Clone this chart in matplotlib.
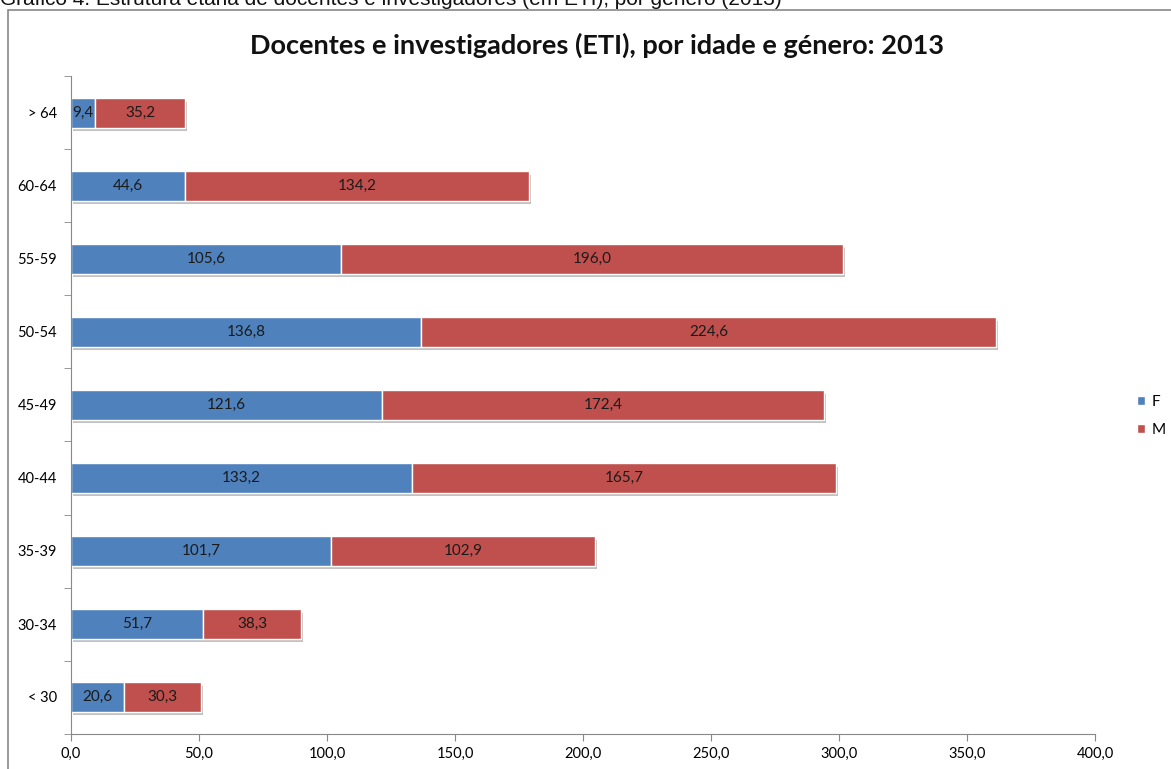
import matplotlib
matplotlib.use("Agg")
import matplotlib.pyplot as plt
from matplotlib.patches import Rectangle
import matplotlib.patheffects as pe
import numpy as np

categories = ["< 30", "30-34", "35-39", "40-44", "45-49", "50-54", "55-59", "60-64", "> 64"]
female = [20.6, 51.7, 101.7, 133.2, 121.6, 136.8, 105.6, 44.6, 9.4]
male = [30.3, 38.3, 102.9, 165.7, 172.4, 224.6, 196.0, 134.2, 35.2]
xticks = [0, 50, 100, 150, 200, 250, 300, 350, 400]

W, H = 1171, 769
fig = plt.figure(figsize=(W / 100, H / 100), dpi=100)
FONT = ["Lato", "DejaVu Sans"]

# caption (cut at top)
fig.text(0 / W, 1 - 5 / H, "Gráfico 4. Estrutura etária de docentes e investigadores (em ETI), por género (2013)",
         fontsize=15, family=["Liberation Sans", "DejaVu Sans"], color="#111111", va="baseline", ha="left")
# chart border
fig.patches.append(Rectangle((8 / W, -0.1), 1.2, 1 - 10 / H + 0.1, transform=fig.transFigure,
                             fill=False, edgecolor="#888888", linewidth=1.2))

ax = fig.add_axes([71 / W, 1 - 733.5 / H, (1095 - 71) / W, (733.5 - 76.5) / H])
y = np.arange(len(categories))
shadow = [pe.SimplePatchShadow(offset=(1.5, -2.5), shadow_rgbFace="#999999", alpha=0.6), pe.Normal()]
bf = ax.barh(y, female, height=0.4, color="#4F81BD", edgecolor="white", linewidth=1.0, label="F")
bm = ax.barh(y, male, left=female, height=0.4, color="#C0504D", edgecolor="white", linewidth=1.0, label="M")
for b in list(bf) + list(bm):
    b.set_path_effects(shadow)

for i in range(len(categories)):
    ax.text(female[i] / 2, y[i], f"{female[i]:.1f}".replace(".", ","), ha="center", va="center",
            fontsize=11, family=FONT, color="#1a1a1a")
    ax.text(female[i] + male[i] / 2, y[i], f"{male[i]:.1f}".replace(".", ","), ha="center", va="center",
            fontsize=11, family=FONT, color="#1a1a1a")

ax.set_xlim(0, 400)
ax.set_ylim(-0.5, len(categories) - 0.5)
ax.set_xticks(xticks)
ax.set_xticklabels([f"{v:.1f}".replace(".", ",") for v in xticks], family=FONT, fontsize=10.5)
ax.set_yticks(y)
ax.set_yticklabels(categories, family=FONT, fontsize=10.5)
ax.set_yticks(np.arange(-0.5, len(categories), 1), minor=True)
ax.tick_params(axis="y", which="major", length=0, pad=10)
ax.tick_params(axis="y", which="minor", length=5, color="#888888", direction="out")
ax.tick_params(axis="x", length=5, color="#888888", pad=5)
for s in ["top", "right"]:
    ax.spines[s].set_visible(False)
for s in ["left", "bottom"]:
    ax.spines[s].set_color("#888888")

fig.text(0.5 * (253 + 940) / W, 1 - 45 / H, "Docentes e investigadores (ETI), por idade e género: 2013",
         fontsize=19.5, fontweight="bold", family=FONT, ha="center", va="center", color="#111111")

leg = fig.legend(handles=[bf, bm], labels=["F", "M"], loc="center left", bbox_to_anchor=(1123 / W, 1 - 416 / H),
                 frameon=False, prop={"family": FONT, "size": 11},
                 handlelength=0.55, handleheight=0.55, handletextpad=0.4, labelspacing=0.9)
for h in leg.legend_handles:
    h.set_path_effects([])

fig.savefig("out.png", dpi=100)
